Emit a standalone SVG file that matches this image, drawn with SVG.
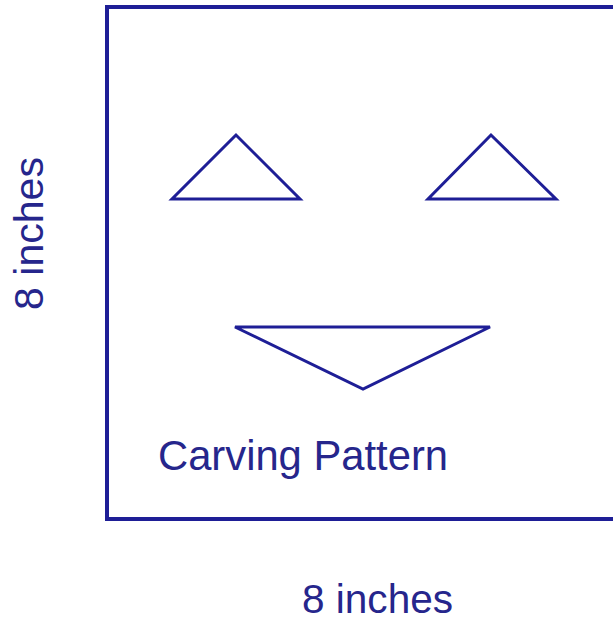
<svg xmlns="http://www.w3.org/2000/svg" width="613" height="621" viewBox="0 0 613 621">
<style>
.ln{fill:none;stroke:#1e1e96;stroke-width:3;stroke-linejoin:miter}
.tx{font-family:"Liberation Sans",Arial,sans-serif;fill:#26268c}
</style>
<rect width="613" height="621" fill="#ffffff"/>
<g id="board"><rect x="107" y="7" width="520" height="512" fill="none" stroke="#1e1e96" stroke-width="4"/></g>
<g id="eye-left"><polygon class="ln" points="236,135 172,199 300,199"/></g>
<g id="eye-right"><polygon class="ln" points="491,135 428,199 556,199"/></g>
<g id="mouth"><polygon class="ln" points="235,327 490,327 363,389"/></g>
<g id="labels">
<text class="tx" x="158" y="470" font-size="42" textLength="290" lengthAdjust="spacingAndGlyphs">Carving Pattern</text>
<text class="tx" x="302" y="613" font-size="40" textLength="151" lengthAdjust="spacingAndGlyphs">8 inches</text>
<text class="tx" transform="translate(43,310) rotate(-90)" font-size="41" textLength="153" lengthAdjust="spacingAndGlyphs">8 inches</text>
</g>
<g id="connectors"></g>
</svg>
